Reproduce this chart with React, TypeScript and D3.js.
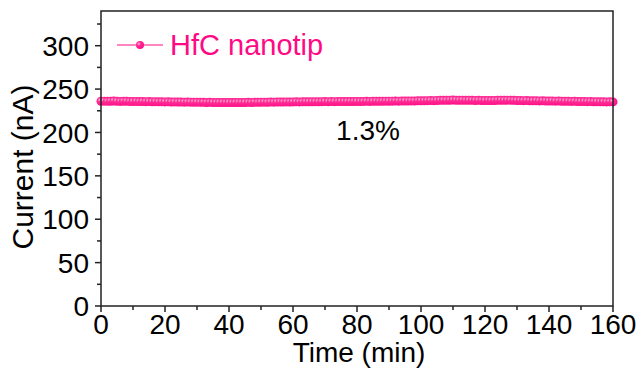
import React from "react";
import { scaleLinear, line, range } from "d3";

// time (min), one reading per minute
const times: number[] = range(0, 161);
// current (nA)
const currents: number[] = [
  236.0, 236.1, 235.9, 236.0, 236.2, 236.0, 235.8, 236.0, 235.9, 235.8,
  235.7, 235.8, 235.6, 235.7, 235.5, 235.6, 235.4, 235.5, 235.3, 235.4,
  235.2, 235.3, 235.1, 235.2, 235.0, 235.1, 234.9, 235.0, 234.9, 234.8,
  234.9, 234.7, 234.8, 234.6, 234.7, 234.6, 234.5, 234.6, 234.5, 234.4,
  234.5, 234.4, 234.5, 234.6, 234.5, 234.6, 234.7, 234.6, 234.8, 234.7,
  234.8, 234.9, 234.8, 235.0, 234.9, 235.0, 235.1, 235.0, 235.2, 235.1,
  235.2, 235.3, 235.2, 235.3, 235.4, 235.3, 235.4, 235.5, 235.4, 235.5,
  235.6, 235.5, 235.6, 235.5, 235.6, 235.7, 235.6, 235.7, 235.6, 235.7,
  235.8, 235.7, 235.8, 235.9, 235.8, 235.9, 236.0, 235.9, 236.0, 236.1,
  236.0, 236.1, 236.2, 236.1, 236.2, 236.3, 236.2, 236.4, 236.3, 236.5,
  236.6, 236.5, 236.7, 236.8, 236.7, 236.9, 237.0, 237.1, 237.0, 237.2,
  237.3, 237.2, 237.1, 237.2, 237.0, 237.1, 237.0, 236.9, 237.0, 236.9,
  236.8, 236.9, 236.8, 236.9, 237.0, 237.1, 237.0, 237.2, 237.1, 237.0,
  236.9, 236.8, 236.7, 236.8, 236.6, 236.5, 236.6, 236.4, 236.5, 236.3,
  236.2, 236.3, 236.1, 236.2, 236.0, 235.9, 236.0, 235.8, 235.9, 235.7,
  235.6, 235.7, 235.5, 235.6, 235.4, 235.5, 235.3, 235.4, 235.2, 235.3,
  235.2,
];
const xTicks: number[] = [0, 20, 40, 60, 80, 100, 120, 140, 160];
const yTicks: number[] = [0, 50, 100, 150, 200, 250, 300];
const xMinor: number[] = [10, 30, 50, 70, 90, 110, 130, 150];
const yMinor: number[] = [25, 75, 125, 175, 225, 275, 325];

const pink = "#ff0a85";

export default function App() {
  const width = 640;
  const height = 371;
  const margin = { top: 11, right: 27, bottom: 65, left: 101 };
  const innerWidth = width - margin.left - margin.right;
  const innerHeight = height - margin.top - margin.bottom;

  const xScale = scaleLinear().domain([0, 160]).range([0, innerWidth]);
  const yScale = scaleLinear().domain([0, 340]).range([innerHeight, 0]);

  const path = line<number>()
    .x((d, i) => xScale(times[i]))
    .y((d) => yScale(d))(currents);

  const font = "Arial, 'Liberation Sans', sans-serif";

  return (
    <svg
      width={width}
      height={height}
      style={{ position: "absolute", left: 0, top: 0, fontFamily: font }}
    >
      <defs>
        <radialGradient id="ball" cx="0.35" cy="0.35" r="0.7">
          <stop offset="0" stopColor="#ffb8da" />
          <stop offset="0.35" stopColor="#ff2c95" />
          <stop offset="1" stopColor={pink} />
        </radialGradient>
      </defs>
      <rect width={width} height={height} fill="white" />
      <g transform={`translate(${margin.left},${margin.top})`}>
        {/* data */}
        <path d={path ?? ""} fill="none" stroke={pink} strokeWidth={1} />
        {currents.map((d, i) => (
          <circle
            key={i}
            cx={xScale(times[i])}
            cy={yScale(d)}
            r={4.5}
            fill="url(#ball)"
          />
        ))}

        {/* frame */}
        <rect
          width={innerWidth}
          height={innerHeight}
          fill="none"
          stroke="#222"
          strokeWidth={1.5}
        />

        {/* y axis */}
        {yTicks.map((t) => (
          <g key={t} transform={`translate(0,${yScale(t)})`}>
            <line x1={-6} x2={0} stroke="#222" strokeWidth={1.5} />
            <text x={-12} dy="0.36em" textAnchor="end" fontSize={28}>
              {t}
            </text>
          </g>
        ))}
        {yMinor.map((t) => (
          <line
            key={t}
            x1={-4}
            x2={0}
            y1={yScale(t)}
            y2={yScale(t)}
            stroke="#222"
            strokeWidth={1.5}
          />
        ))}

        {/* x axis */}
        {xTicks.map((t) => (
          <g key={t} transform={`translate(${xScale(t)},${innerHeight})`}>
            <line y1={0} y2={6} stroke="#222" strokeWidth={1.5} />
            <text y={28} textAnchor="middle" fontSize={28}>
              {t}
            </text>
          </g>
        ))}
        {xMinor.map((t) => (
          <line
            key={t}
            x1={xScale(t)}
            x2={xScale(t)}
            y1={innerHeight}
            y2={innerHeight + 4}
            stroke="#222"
            strokeWidth={1.5}
          />
        ))}

        {/* axis labels */}
        <text
          x={(290 + 428) / 2 - margin.left}
          y={innerHeight + 56}
          textAnchor="middle"
          fontSize={28}
        >
          Time (min)
        </text>
        <text
          transform={`translate(${-68},${156}) rotate(-90)`}
          textAnchor="middle"
          fontSize={30}
        >
          Current (nA)
        </text>

        {/* annotation */}
        <text x={267} y={129} textAnchor="middle" fontSize={28}>
          1.3%
        </text>

        {/* legend */}
        <g transform="translate(16,34)">
          <line x1={0} x2={46} stroke={pink} strokeWidth={1} />
          <circle cx={23} r={4} fill="url(#ball)" />
          <text x={53} dy="0.36em" fontSize={29} fill={pink}>
            HfC nanotip
          </text>
        </g>
      </g>
    </svg>
  );
}
